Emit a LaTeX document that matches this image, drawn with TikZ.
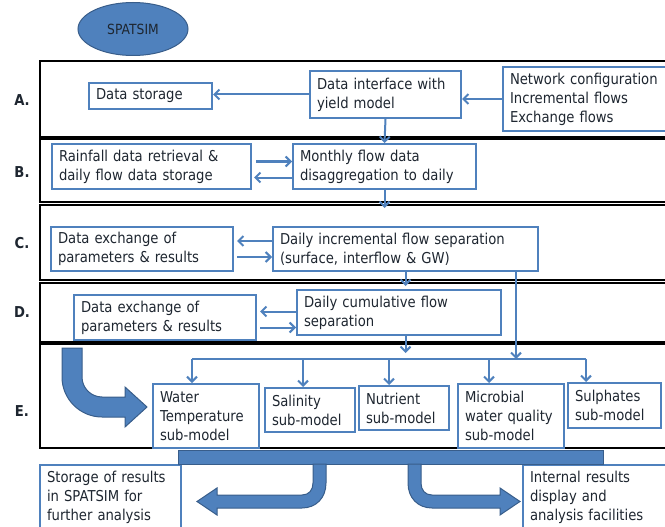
\documentclass[tikz,border=0pt]{standalone}
\usepackage{fontspec}
\setmainfont{DejaVu Sans}[FakeStretch=0.88]
\usetikzlibrary{shapes.geometric,arrows.meta}
\definecolor{boxblue}{HTML}{4F81BD}
\definecolor{edgeblue}{HTML}{385D8A}
\definecolor{txt}{HTML}{1E2630}
\tikzset{
  box/.style={draw=boxblue, line width=2pt, anchor=north west, align=left,
    inner xsep=7pt, text=txt, font=\fontsize{15}{19}\selectfont},
  band/.style={draw=black, line width=2.5pt},
  arr/.style={-{Straight Barb[length=5pt,width=10pt]}, draw=boxblue, line width=2pt},
  bigarrow/.style={fill=boxblue, draw=edgeblue, line width=1pt},
  lbl/.style={font=\fontsize{15}{17}\selectfont\bfseries, text=txt},
}
\begin{document}
\begin{tikzpicture}[x=1pt,y=-1pt]
  \useasboundingbox (0,0) rectangle (665,527);
  % title
  \node[ellipse, fill=boxblue, draw=edgeblue, line width=1pt, minimum width=110pt,
    minimum height=53pt, font=\fontsize{14}{16}\selectfont, text=txt] (spat) at (133,29) {SPATSIM};
  % bands
  \draw[band] (40,61) rectangle (680,137);
  \draw[band] (40,139) rectangle (680,202);
  \draw[band] (40,205) rectangle (680,280);
  \draw[band] (40,283) rectangle (680,342);
  \draw[band] (40,344) rectangle (680,448);
  \node[lbl] (la) at (22,100) {A.};
  \node[lbl] (lb) at (22,172) {B.};
  \node[lbl] (lc) at (22,243) {C.};
  \node[lbl] (ld) at (22,312) {D.};
  \node[lbl] (le) at (22,411) {E.};
  % A
  \node[box, text width=109pt, minimum height=26pt] (ds) at (88,82) {Data storage};
  \node[box, text width=137pt, minimum height=47pt] (di) at (309,70) {Data interface with\\yield model};
  \node[box, text width=161pt, minimum height=64pt] (nw) at (502,66) {Network configuration\\Incremental flows\\Exchange flows};
  \draw[arr] (di.west) -- (di.west -| ds.east);
  \draw[arr] (nw.west) -- (nw.west -| di.east);
  % B
  \node[box, text width=185pt, minimum height=45pt] (rf) at (51,143) {Rainfall data retrieval \&\\daily flow data storage};
  \node[box, text width=169pt, minimum height=45pt] (mf) at (292,143) {Monthly flow data\\disaggregation to daily};
  \draw[arr] (di.south) -- (mf.north);
  \draw[arr] ([xshift=4pt,yshift=5pt]rf.east) -- ([yshift=5pt]rf.east -| mf.west);
  \draw[arr] ([yshift=-11pt]rf.east -| mf.west) -- ([xshift=2pt,yshift=-11pt]rf.east);
  % C
  \node[box, text width=168pt, minimum height=44pt] (dxc) at (50,226) {Data exchange of\\parameters \& results};
  \node[box, text width=251pt, minimum height=44pt] (inc) at (272,226) {Daily incremental flow separation\\(surface, interflow \& GW)};
  \draw[arr, shorten >=18pt] (mf.south) -- (mf.south |- inc.north);
  \draw[arr] ([yshift=8pt]dxc.east -| inc.west) -- ([xshift=3pt,yshift=8pt]dxc.east);
  \draw[arr] ([xshift=3pt,yshift=-8pt]dxc.east) -- ([yshift=-8pt]dxc.east -| inc.west);
  % D
  \node[box, text width=168pt, minimum height=45pt] (dxd) at (73,294) {Data exchange of\\parameters \& results};
  \node[box, text width=190pt, minimum height=45pt] (cum) at (296,289) {Daily cumulative flow\\separation};
  \draw[arr, shorten >=3pt] (inc.south) -- (inc.south |- cum.north);
  \draw[arr] ([yshift=6pt]dxd.east -| cum.west) -- ([xshift=3pt,yshift=6pt]dxd.east);
  \draw[arr] ([xshift=3pt,yshift=-10pt]dxd.east) -- ([yshift=-10pt]dxd.east -| cum.west);
  % E
  \coordinate (bus) at (0,359);
  \node[box, text width=92pt, minimum height=64pt] (wt) at (152,383) {Water\\Temperature\\sub-model};
  \node[box, text width=76pt, minimum height=44pt] (sal) at (264,387) {Salinity\\sub-model};
  \node[box, text width=76pt, minimum height=44pt] (nut) at (358,385) {Nutrient\\sub-model};
  \node[box, text width=92pt, minimum height=64pt] (mic) at (457,383) {Microbial\\water quality\\sub-model};
  \node[box, text width=79pt, minimum height=45pt] (sul) at (567,382) {Sulphates\\sub-model};
  \draw[boxblue, line width=2pt] (192,0 |- bus) -- (586,0 |- bus);
  \draw[arr, shorten >=6pt] (inc.south |- cum.south) -- (inc.south |- bus);
  \draw[arr] (516,0 |- inc.south) -- (516,0 |- bus);
  \foreach \x/\n in {192/wt,303/sal,389/nut,489/mic,586/sul}
    \draw[arr] (\x,0 |- bus) -- (\x,0 |- \n.north);
  % big bent arrow in E
  \draw[bigarrow] (62,348) -- (62,377) .. controls (62,399) and (80,417) .. (102,417)
    -- (125,417) -- (125,427) -- (147,407) -- (125,387) -- (125,397) -- (102,397)
    .. controls (91,397) and (82,388) .. (82,377) -- (82,348) -- cycle;
  % output
  \node[box, text width=127pt, minimum height=64pt] (st) at (39,464) {Storage of results\\in SPATSIM for\\further analysis};
  \node[box, text width=136pt, minimum height=64pt] (ir) at (522,464) {Internal results\\display and\\analysis facilities};
  \draw[bigarrow] (178,450) rectangle (603,464);
  \draw[bigarrow] (313,464) -- (313,483) .. controls (313,490) and (309,495) .. (302,495)
    -- (217,495) -- (217,488) -- (197,501.5) -- (217,515) -- (217,508) -- (302,508)
    .. controls (316,508) and (326,498) .. (326,483) -- (326,464) -- cycle;
  \draw[bigarrow] (421,464) -- (421,483) .. controls (421,490) and (425,495) .. (432,495)
    -- (500,495) -- (500,488) -- (520,501.5) -- (500,515) -- (500,508) -- (432,508)
    .. controls (418,508) and (408,498) .. (408,483) -- (408,464) -- cycle;
\end{tikzpicture}
\end{document}
